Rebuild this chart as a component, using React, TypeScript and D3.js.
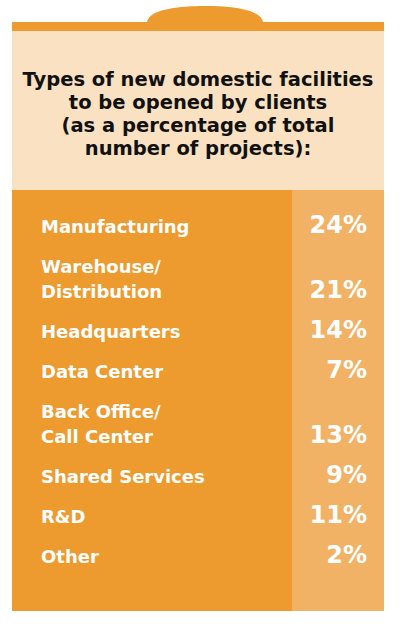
import { scaleLinear } from "d3";

const categories: string[][] = [
    ["Manufacturing"],
    ["Warehouse/", "Distribution"],
    ["Headquarters"],
    ["Data Center"],
    ["Back Office/", "Call Center"],
    ["Shared Services"],
    ["R&D"],
    ["Other"],
];
const values = [24, 21, 14, 7, 13, 9, 11, 2];
const titleLines = [
    "Types of new domestic facilities",
    "to be opened by clients",
    "(as a percentage of total",
    "number of projects):",
];

const W = 400;
const H = 628;
const left = 12;
const right = 384;
const split = 292;
const ORANGE = "#ED9A2E";
const BEIGE = "#FAE1C2";
const LIGHT = "#F2B266";
const FONT = "'DejaVu Sans', sans-serif";

// one unit = gap between rows, an extra label line costs 25/40 of a unit
const extraLine = 0.625;
const yScale = scaleLinear().domain([0, 1]).range([233, 273]);

const rows = categories.reduce<{ lines: string[]; value: number; start: number }[]>((acc, lines, i) => {
    const prev = acc[i - 1];
    const start = prev ? prev.start + 1 + (prev.lines.length - 1) * extraLine : 0;
    acc.push({ lines, value: values[i], start });
    return acc;
}, []);

export default function App() {
    return (
        <svg width={W} height={H} style={{ position: "absolute", left: 0, top: 0, background: "#fff" }}>
            <path d="M147,22 C149,9 180,6 205,6 C230,6 261,9 263,22 Z" fill={ORANGE} />
            <rect x={left} y={22} width={right - left} height={9} fill={ORANGE} />
            <rect x={left} y={31} width={right - left} height={159} fill={BEIGE} />
            <rect x={left} y={190} width={right - left} height={421} fill={ORANGE} />
            <rect x={split} y={190} width={right - split} height={421} fill={LIGHT} />

            <g fontFamily={FONT} fontWeight="bold" fontSize={19.5} fill="#111" textAnchor="middle">
                {titleLines.map((t, i) => (
                    <text key={i} x={198} y={86 + i * 23}>
                        {t}
                    </text>
                ))}
            </g>

            <g fontFamily={FONT} fontWeight="bold" fill="#fff">
                {rows.map((r, i) => (
                    <g key={i}>
                        {r.lines.map((l, j) => (
                            <text key={j} x={41} y={yScale(r.start + j * extraLine)} fontSize={18}>
                                {l}
                            </text>
                        ))}
                        <text
                            x={367}
                            y={yScale(r.start + (r.lines.length - 1) * extraLine)}
                            fontSize={24}
                            textAnchor="end"
                        >
                            {r.value}%
                        </text>
                    </g>
                ))}
            </g>
        </svg>
    );
}
